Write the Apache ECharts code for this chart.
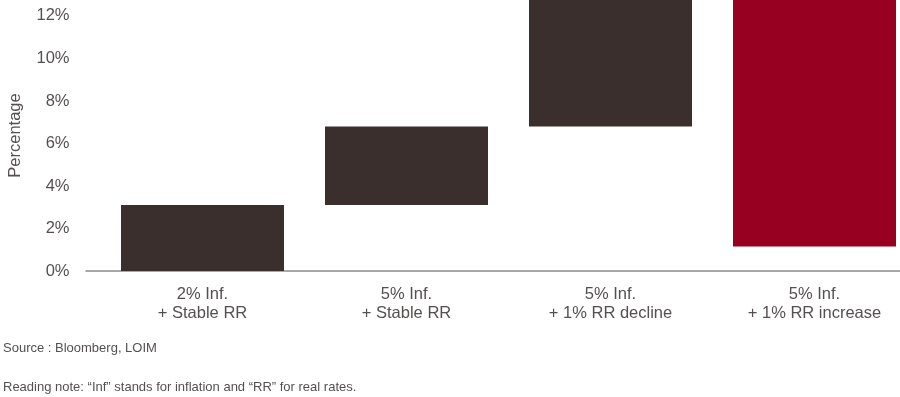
<!DOCTYPE html>
<html><head><meta charset="utf-8">
<script src="https://cdn.jsdelivr.net/npm/echarts@6/dist/echarts.min.js"></script>
<style>html,body{margin:0;padding:0;background:#fff}#c{width:900px;height:397px}</style>
</head><body><div id="c"></div>
<script>
const categories = ['2% Inf.\n+ Stable RR', '5% Inf.\n+ Stable RR', '5% Inf.\n+ 1% RR decline', '5% Inf.\n+ 1% RR increase'];
const barBottom = [0, 3.1, 6.8, 1.15];
const barTop = [3.1, 6.8, 14.5, 14.5];
const barColors = ['#3a2f2d', '#3a2f2d', '#3a2f2d', '#970020'];
const yTicks = [0, 2, 4, 6, 8, 10, 12];

const FONT = 'Liberation Sans, Arial, sans-serif';
const TXT = '#555050';
const chart = echarts.init(document.getElementById('c'));
chart.setOption({
  animation: false,
  textStyle: { fontFamily: FONT },
  grid: [
    { left: 100.5, top: 0, width: 816, height: 271, containLabel: false, outerBoundsMode: 'none' },
    { left: 86, top: 0, right: 0, height: 271, containLabel: false, outerBoundsMode: 'none' }
  ],
  xAxis: [
    {
      type: 'category', data: categories, gridIndex: 0,
      axisLine: { show: false }, axisTick: { show: false },
      axisLabel: { color: TXT, fontSize: 16.5, lineHeight: 19, margin: 14, fontFamily: FONT }
    },
    {
      type: 'category', data: [''], gridIndex: 1,
      axisLine: { show: true, lineStyle: { color: '#8c8c8c', width: 1.5 } },
      axisTick: { show: false }, axisLabel: { show: false }
    }
  ],
  yAxis: [
    {
      type: 'value', gridIndex: 0, min: 0, max: 12.75, interval: 2,
      name: 'Percentage', nameLocation: 'middle', nameGap: 77, nameRotate: 90,
      nameTextStyle: { color: TXT, fontSize: 16.5, fontFamily: FONT },
      axisLine: { show: false }, axisTick: { show: false }, splitLine: { show: false },
      axisLabel: {
        color: TXT, fontSize: 16.5, margin: 31, fontFamily: FONT, showMaxLabel: false,
        formatter: v => (yTicks.indexOf(v) >= 0 ? v + '%' : '')
      }
    },
    { type: 'value', gridIndex: 1, show: false, min: 0, max: 1 }
  ],
  series: [
    {
      type: 'bar', stack: 'w', xAxisIndex: 0, yAxisIndex: 0, barWidth: 163,
      itemStyle: { color: 'transparent' }, silent: true,
      data: barBottom
    },
    {
      type: 'bar', stack: 'w', xAxisIndex: 0, yAxisIndex: 0, barWidth: 163, clip: true,
      data: barTop.map((t, i) => ({ value: t - barBottom[i], itemStyle: { color: barColors[i] } }))
    }
  ],
  graphic: [
    { type: 'text', left: 3, top: 342, style: { text: 'Source : Bloomberg, LOIM', fill: TXT, font: '13px ' + FONT } },
    { type: 'text', left: 3, top: 381, style: { text: 'Reading note: \u201cInf\u201d stands for inflation and \u201cRR\u201d for real rates.', fill: TXT, font: '13px ' + FONT } }
  ]
});
</script></body></html>
